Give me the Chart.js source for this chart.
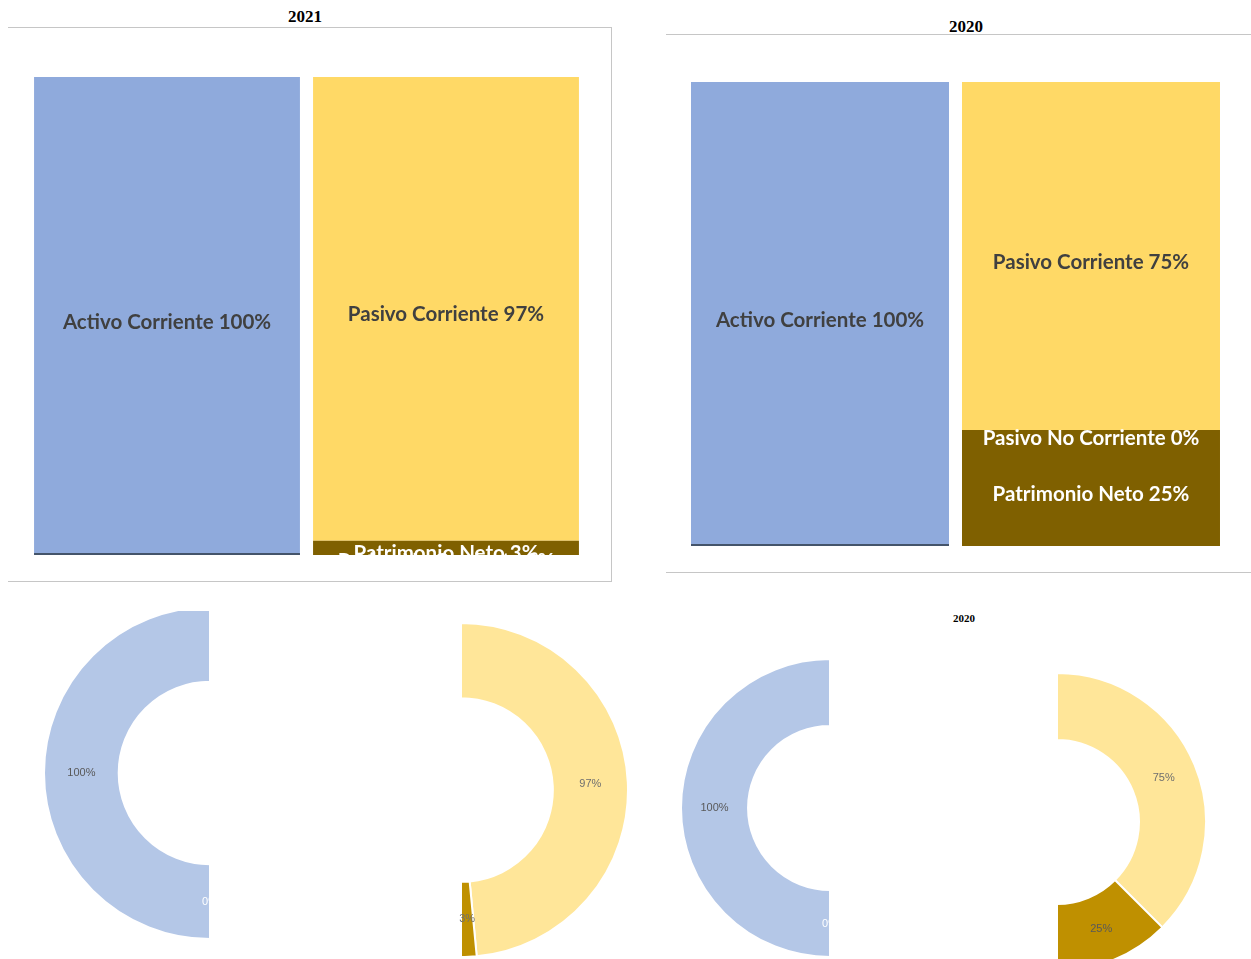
<!DOCTYPE html>
<html>
<head>
<meta charset="utf-8">
<script src="https://cdn.jsdelivr.net/npm/chart.js@4.4.1/dist/chart.umd.min.js"></script>
<style>
  body { margin: 0; width: 1251px; height: 959px; overflow: hidden; background: #fff; position: relative; }
  .abs { position: absolute; }
  .title { position: absolute; font-family: "Liberation Serif", serif; font-weight: bold; color: #000; transform: translate(-50%, -50%); white-space: nowrap; }
  .clip { position: absolute; overflow: hidden; }
</style>
</head>
<body>
<div class="title" style="left:305px; top:17px; font-size:17px;">2021</div>
<div class="abs" style="left:8px; top:27px; width:604px; height:555px; box-sizing:border-box; border-top:1px solid #c6c6c6; border-right:1px solid #c6c6c6; border-bottom:1px solid #c6c6c6;"></div>
<canvas id="bar2021" class="abs" style="left:8px; top:27px;" width="604" height="555"></canvas>

<div class="title" style="left:966px; top:27px; font-size:17px;">2020</div>
<div class="abs" style="left:666px; top:34px; width:585px; height:539px; box-sizing:border-box; border-top:1px solid #c6c6c6; border-bottom:1px solid #c6c6c6;"></div>
<canvas id="bar2020" class="abs" style="left:666px; top:34px;" width="585" height="539"></canvas>

<div class="clip" style="left:0px; top:611px; width:210px; height:348px;">
  <canvas id="act2021" class="abs" style="left:43px; top:-5px;" width="334" height="334"></canvas>
</div>
<canvas id="pas2021" class="abs" style="left:293px; top:622px;" width="336" height="336"></canvas>

<div class="title" style="left:964px; top:618px; font-size:11px;">2020</div>
<div class="clip" style="left:680px; top:658px; width:150px; height:301px;">
  <canvas id="act2020" class="abs" style="left:0px; top:0px;" width="300" height="300"></canvas>
</div>
<canvas id="pas2020" class="abs" style="left:907px; top:672px;" width="300" height="300"></canvas>

<script>
// values, one entry per year
const years = ['2021', '2020'];
const columns = ['Activo', 'Pasivo y Patrimonio'];
const activoNoCorriente = [0, 0];
const activoCorriente = [100, 100];
const patrimonioNeto = [3, 25];
const pasivoNoCorriente = [0, 0];
const pasivoCorriente = [97, 75];

// labels drawn on the stacked bars
const barLabels = {
  id: 'barLabels',
  afterDatasetsDraw(chart) {
    const ctx = chart.ctx;
    const area = chart.chartArea;
    const zeroOffset = chart.options.zeroLabelOffset || 9;
    ctx.save();
    ctx.beginPath();
    ctx.rect(area.left, area.top, area.right - area.left, area.bottom - area.top);
    ctx.clip();
    const items = [];
    chart.data.datasets.forEach(function(ds, i) {
      const meta = chart.getDatasetMeta(i);
      meta.data.forEach(function(bar, j) {
        const v = ds.data[j];
        if (v === null || v === undefined) return;
        if (ds.lineColor) {
          // zero-height segment shown as a thin line at the bottom of the column
          ctx.fillStyle = ds.lineColor;
          ctx.fillRect(bar.x - bar.width / 2, bar.base - 2, bar.width, 2);
          return;
        }
        const y = v === 0 ? bar.base + zeroOffset : (bar.y + bar.base) / 2 + 6;
        items.push({ zero: v === 0, text: ds.label + ' ' + v + '%', x: bar.x, y: y, color: ds.labelColor });
      });
    });
    items.sort(function(a, b) { return (b.zero ? 1 : 0) - (a.zero ? 1 : 0); });
    ctx.font = 'bold 20.5px Lato';
    ctx.textAlign = 'center';
    ctx.textBaseline = 'middle';
    items.forEach(function(it) {
      ctx.fillStyle = it.color;
      ctx.fillText(it.text, it.x, it.y);
    });
    ctx.restore();
  }
};

// percentage labels on the doughnut slices
const arcLabels = {
  id: 'arcLabels',
  afterDatasetsDraw(chart) {
    const ctx = chart.ctx;
    const ds = chart.data.datasets[0];
    const meta = chart.getDatasetMeta(0);
    ctx.save();
    ctx.font = '11px "Liberation Sans"';
    ctx.textAlign = 'center';
    ctx.textBaseline = 'middle';
    meta.data.forEach(function(arc, i) {
      const color = ds.labelColors[i];
      if (!color) return;
      const p = arc.tooltipPosition();
      ctx.fillStyle = color;
      ctx.fillText(ds.data[i] + '%', p.x, p.y);
    });
    ctx.restore();
  }
};

function barChart(id, y, pad, barPct, zeroOffset) {
  return new Chart(document.getElementById(id), {
    type: 'bar',
    data: {
      labels: columns,
      datasets: [
        { label: 'Activo No Corriente', data: [activoNoCorriente[y], null], backgroundColor: '#44546A', lineColor: '#44546A' },
        { label: 'Activo Corriente', data: [activoCorriente[y], null], backgroundColor: '#8FAADC', labelColor: '#404040' },
        { label: 'Patrimonio Neto', data: [null, patrimonioNeto[y]], backgroundColor: '#7F6000', labelColor: '#ffffff' },
        { label: 'Pasivo No Corriente', data: [null, pasivoNoCorriente[y]], backgroundColor: '#A5A5A5', labelColor: '#ffffff' },
        { label: 'Pasivo Corriente', data: [null, pasivoCorriente[y]], backgroundColor: '#FFD966', labelColor: '#404040' }
      ]
    },
    options: {
      responsive: false,
      animation: false,
      zeroLabelOffset: zeroOffset,
      layout: { padding: pad },
      datasets: { bar: { barPercentage: barPct, categoryPercentage: 1, skipNull: false } },
      plugins: { legend: { display: false }, tooltip: { enabled: false } },
      scales: {
        x: { display: false, stacked: true },
        y: { display: false, stacked: true, min: 0, max: 100 }
      }
    },
    plugins: [barLabels]
  });
}

function donut(id, values, colors, labelColors, rotation) {
  const total = values.reduce(function(a, b) { return a + b; }, 0);
  return new Chart(document.getElementById(id), {
    type: 'doughnut',
    data: {
      labels: ['', '', '', '', ''].slice(0, values.length + 1),
      datasets: [{
        data: values.concat([total]),
        backgroundColor: colors.concat(['rgba(0,0,0,0)']),
        borderColor: colors.map(function() { return '#ffffff'; }).concat(['rgba(0,0,0,0)']),
        borderWidth: colors.map(function() { return 2; }).concat([0]),
        labelColors: labelColors.concat([null])
      }]
    },
    options: {
      responsive: false,
      animation: false,
      rotation: rotation,
      cutout: '55%',
      plugins: { legend: { display: false }, tooltip: { enabled: false } }
    },
    plugins: [arcLabels]
  });
}

barChart('bar2021', 0, { left: 19.5, right: 26.5, top: 50, bottom: 27 }, 0.953, 21);
barChart('bar2020', 1, { left: 18.5, right: 24.5, top: 48, bottom: 27 }, 0.952, 8);

donut('act2021', [activoNoCorriente[0], activoCorriente[0]], ['#8497B0', '#B4C7E7'], ['#ffffff', '#595959'], 180);
donut('pas2021', [pasivoCorriente[0], pasivoNoCorriente[0], patrimonioNeto[0]], ['#FFE699', '#A5A5A5', '#BF9000'], ['#6f6f6f', null, '#6f6f6f'], 0);
donut('act2020', [activoNoCorriente[1], activoCorriente[1]], ['#8497B0', '#B4C7E7'], ['#ffffff', '#595959'], 180);
donut('pas2020', [pasivoCorriente[1], pasivoNoCorriente[1], patrimonioNeto[1]], ['#FFE699', '#A5A5A5', '#BF9000'], ['#6f6f6f', null, '#595959'], 0);
</script>
</body>
</html>
